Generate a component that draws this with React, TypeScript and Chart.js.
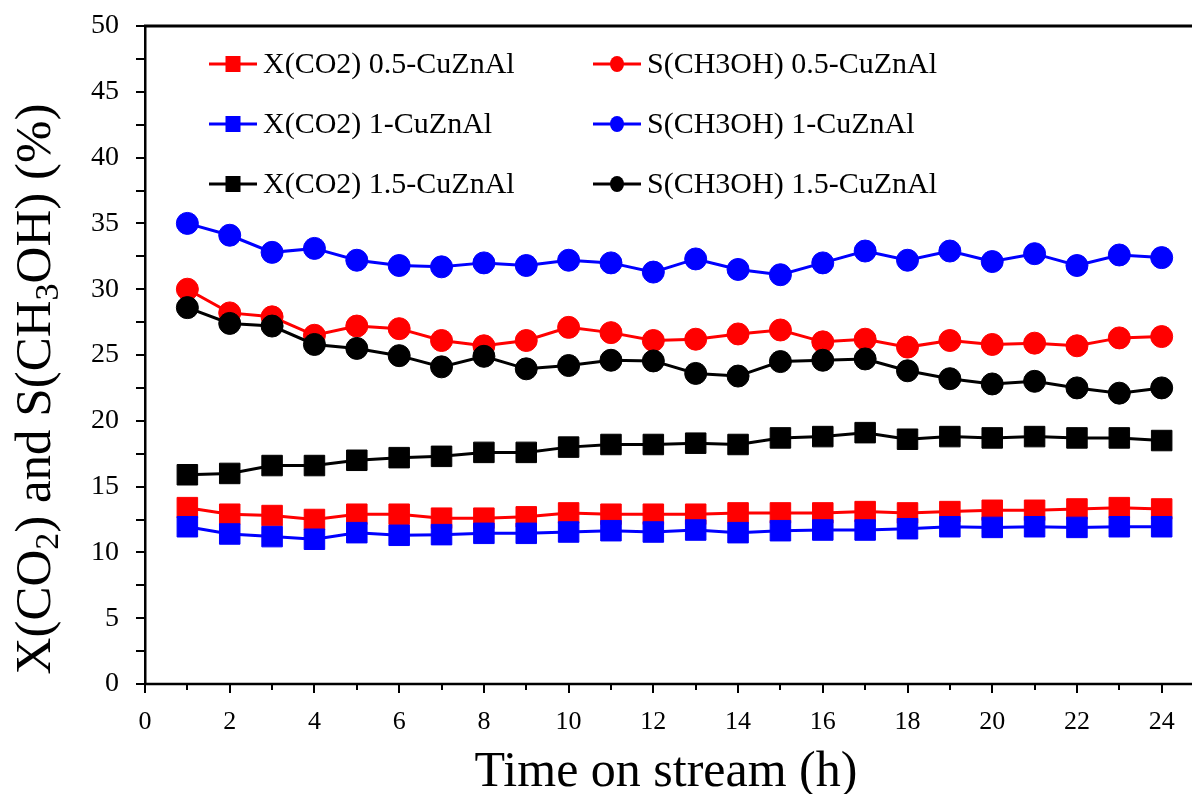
import React, { useEffect, useRef } from 'react';
import { Chart, registerables } from 'chart.js';

Chart.register(...registerables);

const HOURS = [1, 2, 3, 4, 5, 6, 7, 8, 9, 10, 11, 12, 13, 14, 15, 16, 17, 18, 19, 20, 21, 22, 23, 24];

const X_CO2_05 = [13.4, 12.9, 12.8, 12.5, 12.9, 12.9, 12.6, 12.6, 12.7, 13.0, 12.9, 12.9, 12.9, 13.0, 13.0, 13.0, 13.1, 13.0, 13.1, 13.2, 13.2, 13.3, 13.4, 13.3];
const X_CO2_1 = [11.95, 11.4, 11.2, 11.0, 11.5, 11.3, 11.35, 11.45, 11.45, 11.55, 11.65, 11.55, 11.7, 11.5, 11.65, 11.7, 11.7, 11.8, 11.95, 11.9, 11.95, 11.9, 11.95, 11.95];
const X_CO2_15 = [15.9, 16.0, 16.6, 16.6, 17.0, 17.2, 17.3, 17.6, 17.6, 18.0, 18.2, 18.2, 18.3, 18.2, 18.7, 18.8, 19.1, 18.6, 18.8, 18.7, 18.8, 18.7, 18.7, 18.5];
const S_MEOH_05 = [30.0, 28.2, 27.9, 26.5, 27.2, 27.0, 26.1, 25.7, 26.1, 27.1, 26.7, 26.1, 26.2, 26.6, 26.9, 26.0, 26.2, 25.6, 26.1, 25.8, 25.9, 25.7, 26.3, 26.4];
const S_MEOH_1 = [35.0, 34.1, 32.8, 33.1, 32.2, 31.8, 31.7, 32.0, 31.8, 32.2, 32.0, 31.3, 32.3, 31.5, 31.1, 32.0, 32.9, 32.2, 32.9, 32.1, 32.7, 31.8, 32.6, 32.4];
const S_MEOH_15 = [28.6, 27.4, 27.2, 25.8, 25.5, 24.95, 24.1, 24.9, 23.95, 24.2, 24.6, 24.55, 23.6, 23.4, 24.5, 24.6, 24.7, 23.8, 23.2, 22.8, 23.0, 22.5, 22.1, 22.5];

const SERIES_LABELS = [
  'X(CO2) 0.5-CuZnAl',
  'X(CO2) 1-CuZnAl',
  'X(CO2) 1.5-CuZnAl',
  'S(CH3OH) 0.5-CuZnAl',
  'S(CH3OH) 1-CuZnAl',
  'S(CH3OH) 1.5-CuZnAl',
];
const SERIES_DATA = [X_CO2_05, X_CO2_1, X_CO2_15, S_MEOH_05, S_MEOH_1, S_MEOH_15];
const SERIES_COLORS = ['#ff0000', '#0000ff', '#000000', '#ff0000', '#0000ff', '#000000'];
const SERIES_STYLES = ['rect', 'rect', 'rect', 'circle', 'circle', 'circle'];
const SERIES_ORDER = [5, 4, 3, 2, 1, 0];

const X_MAX = 24.35;
const X_TICKS = [0, 1, 2, 3, 4, 5, 6, 7, 8, 9, 10, 11, 12, 13, 14, 15, 16, 17, 18, 19, 20, 21, 22, 23, 24];
const Y_TICKS = [0, 2.5, 5, 7.5, 10, 12.5, 15, 17.5, 20, 22.5, 25, 27.5, 30, 32.5, 35, 37.5, 40, 42.5, 45, 47.5, 50];

const X_TITLE = 'Time on stream (h)';
const Y_TITLE_PARTS: [string, boolean][] = [
  ['X(CO', false],
  ['2', true],
  [') and S(CH', false],
  ['3', true],
  ['OH) (%)', false],
];

const FONT = "'Liberation Serif', 'Times New Roman', serif";

const decoPlugin = {
  id: 'deco',
  afterDraw(chart: any) {
    const ctx = chart.ctx as CanvasRenderingContext2D;
    const { left, top, bottom } = chart.chartArea;
    const xs = chart.scales.x;
    ctx.save();
    ctx.strokeStyle = '#000';
    // top frame line
    ctx.lineWidth = 3;
    ctx.beginPath();
    ctx.moveTo(left - 1, top);
    ctx.lineTo(chart.width, top);
    ctx.stroke();
    // bottom axis line running to the edge
    ctx.lineWidth = 2.5;
    ctx.beginPath();
    ctx.moveTo(left - 1, bottom);
    ctx.lineTo(chart.width, bottom);
    ctx.stroke();
    // x ticks (major longer)
    ctx.lineWidth = 2;
    X_TICKS.forEach((v) => {
      const px = Math.round(xs.getPixelForValue(v));
      const len = v % 2 === 0 ? 9 : 6;
      ctx.beginPath();
      ctx.moveTo(px, bottom);
      ctx.lineTo(px, bottom + len);
      ctx.stroke();
    });

    // legend (two columns, three rows)
    const colLine = [209, 593];
    const lineLen = 48;
    const rows = [64, 124, 184];
    const ds = chart.data.datasets;
    ctx.font = `30px ${FONT}`;
    ctx.textBaseline = 'middle';
    ctx.textAlign = 'left';
    for (let i = 0; i < ds.length; i++) {
      const col = Math.floor(i / 3);
      const row = i % 3;
      const x0 = colLine[col];
      const y = rows[row];
      const color = ds[i].borderColor;
      ctx.strokeStyle = color;
      ctx.fillStyle = color;
      ctx.lineWidth = 3;
      ctx.beginPath();
      ctx.moveTo(x0, y);
      ctx.lineTo(x0 + lineLen, y);
      ctx.stroke();
      const cx = x0 + lineLen / 2;
      if (ds[i].pointStyle === 'rect') {
        ctx.fillRect(cx - 7.5, y - 8, 15, 16);
      } else {
        ctx.beginPath();
        ctx.ellipse(cx, y, 7, 8, 0, 0, Math.PI * 2);
        ctx.fill();
      }
      ctx.fillStyle = '#000';
      ctx.fillText(ds[i].label, x0 + lineLen + 6, y + 1);
    }

    // x title
    ctx.fillStyle = '#000';
    ctx.font = `50px ${FONT}`;
    ctx.textAlign = 'center';
    ctx.textBaseline = 'alphabetic';
    ctx.fillText(X_TITLE, 666, 786);

    // y title with subscripts
    const mainFont = `51px ${FONT}`;
    const subFont = `34px ${FONT}`;
    let total = 0;
    const widths = Y_TITLE_PARTS.map(([t, sub]) => {
      ctx.font = sub ? subFont : mainFont;
      const w = ctx.measureText(t).width;
      total += w;
      return w;
    });
    ctx.translate(50, 389);
    ctx.rotate(-Math.PI / 2);
    ctx.textAlign = 'left';
    let xp = -total / 2;
    Y_TITLE_PARTS.forEach(([t, sub], k) => {
      ctx.font = sub ? subFont : mainFont;
      ctx.fillText(t, xp, sub ? 8 : 0);
      xp += widths[k];
    });
    ctx.restore();
  },
};

export default function App() {
  const ref = useRef<HTMLCanvasElement | null>(null);

  useEffect(() => {
    if (!ref.current) return;
    document.body.style.margin = '0';
    document.body.style.overflow = 'hidden';
    const datasets = SERIES_DATA.map((vals, i) => ({
      label: SERIES_LABELS[i],
      data: HOURS.map((h, k) => ({ x: h, y: vals[k] })),
      borderColor: SERIES_COLORS[i],
      backgroundColor: SERIES_COLORS[i],
      pointBackgroundColor: SERIES_COLORS[i],
      pointBorderColor: SERIES_COLORS[i],
      pointStyle: SERIES_STYLES[i],
      pointRadius: SERIES_STYLES[i] === 'rect' ? 14.5 : 11,
      pointBorderWidth: 1,
      borderWidth: 3,
      tension: 0,
      order: SERIES_ORDER[i],
    }));

    const chart = new Chart(ref.current, {
      type: 'line',
      data: { datasets },
      options: {
        responsive: false,
        animation: false,
        devicePixelRatio: 1,
        events: [],
        layout: { padding: { top: 26, left: 0, right: 0, bottom: 0 } },
        plugins: { legend: { display: false }, tooltip: { enabled: false } },
        scales: {
          x: {
            type: 'linear',
            min: 0,
            max: X_MAX,
            afterBuildTicks: (s: any) => {
              s.ticks = X_TICKS.map((v) => ({ value: v }));
            },
            afterFit: (s: any) => {
              s.height = 110;
              s.paddingLeft = 0;
              s.paddingRight = 0;
            },
            grid: { display: false },
            border: { display: false },
            ticks: {
              autoSkip: false,
              maxRotation: 0,
              padding: 15,
              color: '#000',
              font: { family: FONT, size: 26 },
              callback: (v: any) => (Number(v) % 2 === 0 ? String(v) : ''),
            },
          },
          y: {
            type: 'linear',
            min: 0,
            max: 50,
            afterBuildTicks: (s: any) => {
              s.ticks = Y_TICKS.map((v) => ({ value: v }));
            },
            afterFit: (s: any) => {
              s.width = 145;
              s.paddingTop = 0;
              s.paddingBottom = 0;
            },
            grid: {
              display: true,
              drawOnChartArea: false,
              drawTicks: true,
              tickLength: 9,
              lineWidth: 2,
              color: '#000',
            },
            border: { display: true, color: '#000', width: 2.5 },
            ticks: {
              autoSkip: false,
              padding: 17,
              color: '#000',
              font: { family: FONT, size: 28 },
              callback: (v: any) => (Number(v) % 5 === 0 ? String(v) : ''),
            },
          },
        },
      },
      plugins: [decoPlugin],
    });
    return () => chart.destroy();
  }, []);

  return (
    <div
      style={{
        position: 'absolute',
        left: 0,
        top: 0,
        width: 1192,
        height: 794,
        overflow: 'hidden',
        background: '#fff',
      }}
    >
      <canvas ref={ref} width={1192} height={794} style={{ display: 'block', width: 1192, height: 794 }} />
    </div>
  );
}
